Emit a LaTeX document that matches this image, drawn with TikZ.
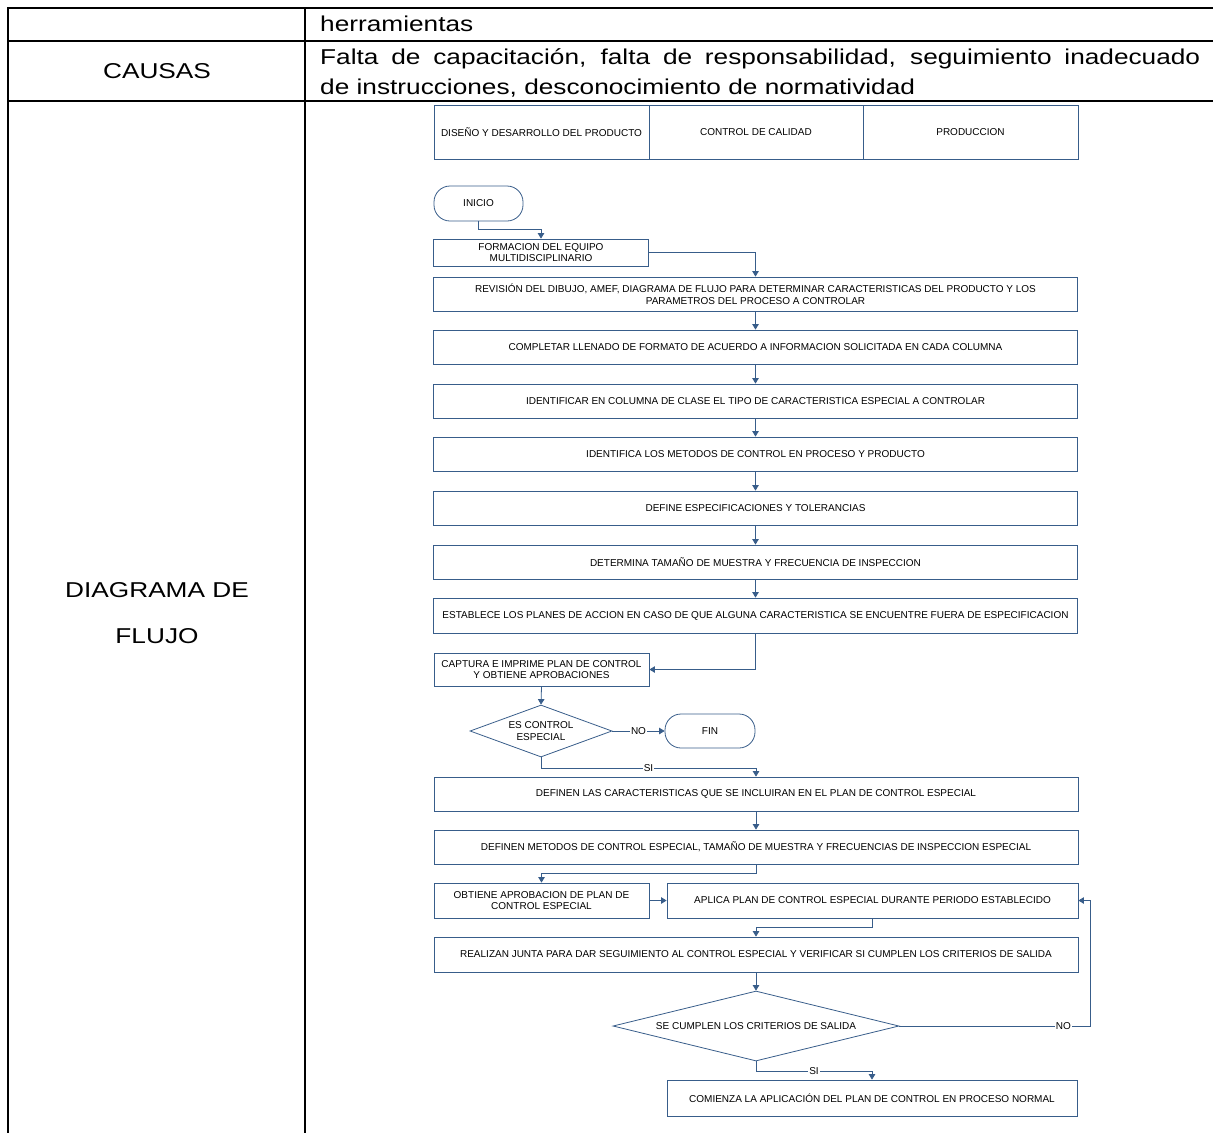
\documentclass[tikz,border=0pt]{standalone}
\usepackage{fontspec}
\setmainfont{Liberation Sans}
\newfontfamily\tablefont[FakeStretch=1.22]{Liberation Sans}
\usetikzlibrary{arrows.meta,shapes.geometric}
\definecolor{flow}{RGB}{56,93,138}
\begin{document}
\begin{tikzpicture}[x=1pt,y=-1pt,
  rule/.style={line width=2.1pt,black},
  celltext/.style={inner sep=0pt,font=\tablefont\fontsize{21.5}{30}\selectfont},
  box/.style={draw=flow,line width=0.8pt,rectangle,inner sep=1pt,align=center,
    font=\fontsize{10}{11.5}\selectfont},
  wide/.style={box,minimum width=644pt,minimum height=34pt},
  half/.style={box,minimum width=215pt,minimum height=34pt},
  term/.style={box,rounded corners=16pt,minimum height=35pt},
  decision/.style={draw=flow,line width=0.8pt,diamond,inner sep=0pt,align=center,
    font=\fontsize{10}{11.5}\selectfont},
  arr/.style={draw=flow,line width=0.8pt,-{Triangle[width=6.5pt,length=5.5pt]}},
  lbl/.style={fill=white,inner sep=1pt,font=\fontsize{10}{11}\selectfont}
]
\useasboundingbox (0,0) rectangle (1213,1133);

% ---- table rules ----
\draw[rule] (8,8) -- (1213,8);
\draw[rule] (8,41) -- (1213,41);
\draw[rule] (8,101) -- (1213,101);
\draw[rule] (8,7) -- (8,1133);
\draw[rule] (305,7) -- (305,1133);

% ---- table text ----
\node[celltext,anchor=west] (tool) at (320,24) {herramientas};
\node[celltext] (causas) at (157,71) {CAUSAS};
\node[celltext,anchor=north west,text width=880pt,align=justify] (falta) at (320,48)
  {Falta de capacitación, falta de responsabilidad, seguimiento inadecuado\linebreak
   de instrucciones, desconocimiento de normatividad};
\node[celltext,align=center,font=\tablefont\fontsize{21.5}{46}\selectfont] (diag) at (157,613)
  {DIAGRAMA DE\\FLUJO};

% ---- swimlane headers ----
\node[box,minimum width=215pt,minimum height=54pt] (lane1) at (541.5,132) {DISEÑO Y DESARROLLO DEL PRODUCTO};
\node[box,minimum width=214pt,minimum height=54pt] (lane2) at (756,132) {CONTROL DE CALIDAD};
\node[box,minimum width=215pt,minimum height=54pt] (lane3) at (970.5,132) {PRODUCCION};

% ---- flow nodes ----
\node[term,minimum width=89pt] (inicio) at (478.5,203.5) {INICIO};
\node[half,minimum height=27pt] (formacion) at (541,252.5) {FORMACION DEL EQUIPO\\MULTIDISCIPLINARIO};
\node[wide] (revision) at (755.5,294) {REVISIÓN DEL DIBUJO, AMEF, DIAGRAMA DE FLUJO PARA DETERMINAR CARACTERISTICAS DEL PRODUCTO Y LOS\\PARAMETROS DEL PROCESO A CONTROLAR};
\node[wide] (completar) at (755.5,347) {COMPLETAR LLENADO DE FORMATO DE ACUERDO A INFORMACION SOLICITADA EN CADA COLUMNA};
\node[wide] (identificar) at (755.5,401) {IDENTIFICAR EN COLUMNA DE CLASE EL TIPO DE CARACTERISTICA ESPECIAL A CONTROLAR};
\node[wide] (identifica) at (755.5,454) {IDENTIFICA LOS METODOS DE CONTROL EN PROCESO Y PRODUCTO};
\node[wide] (define) at (755.5,508) {DEFINE ESPECIFICACIONES Y TOLERANCIAS};
\node[wide] (determina) at (755.5,562) {DETERMINA TAMAÑO DE MUESTRA Y FRECUENCIA DE INSPECCION};
\node[wide,minimum height=35pt] (establece) at (755.5,615.5) {ESTABLECE LOS PLANES DE ACCION EN CASO DE QUE ALGUNA CARACTERISTICA SE ENCUENTRE FUERA DE ESPECIFICACION};
\node[half,minimum height=33pt] (captura) at (541.5,669.5) {CAPTURA E IMPRIME PLAN DE CONTROL\\Y OBTIENE APROBACIONES};
\node[decision,aspect=2.73,minimum width=142pt,minimum height=52pt] (esctrl) at (541,731) {ES CONTROL\\ESPECIAL};
\node[term,minimum width=90pt,minimum height=34pt] (fin) at (710,731) {FIN};
\node[wide] (caract) at (756,794) {DEFINEN LAS CARACTERISTICAS QUE SE INCLUIRAN EN EL PLAN DE CONTROL ESPECIAL};
\node[wide] (metodos) at (756,847) {DEFINEN METODOS DE CONTROL ESPECIAL, TAMAÑO DE MUESTRA Y FRECUENCIAS DE INSPECCION ESPECIAL};
\node[half,minimum height=35pt] (obtiene) at (541.5,900.5) {OBTIENE APROBACION DE PLAN DE\\CONTROL ESPECIAL};
\node[box,minimum width=411pt,minimum height=35pt] (aplica) at (872.5,900.5) {APLICA PLAN DE CONTROL ESPECIAL DURANTE PERIODO ESTABLECIDO};
\node[wide,minimum height=35pt] (junta) at (756,954.5) {REALIZAN JUNTA PARA DAR SEGUIMIENTO AL CONTROL ESPECIAL Y VERIFICAR SI CUMPLEN LOS CRITERIOS DE SALIDA};
\node[decision,aspect=4.09,minimum width=286pt,minimum height=70pt] (salida) at (756,1026) {SE CUMPLEN LOS CRITERIOS DE SALIDA};
\node[box,minimum width=410pt,minimum height=36pt] (comienza) at (872,1098) {COMIENZA LA APLICACIÓN DEL PLAN DE CONTROL EN PROCESO NORMAL};

\coordinate (noturn) at (1090,1026);

% ---- connectors ----
\draw[arr] (inicio.south) -- ++(0,8) -| (formacion.north);
\draw[arr] (formacion.east) -| (revision.north);
\draw[arr] (revision.south) -- (completar.north);
\draw[arr] (completar.south) -- (identificar.north);
\draw[arr] (identificar.south) -- (identifica.north);
\draw[arr] (identifica.south) -- (define.north);
\draw[arr] (define.south) -- (determina.north);
\draw[arr] (determina.south) -- (establece.north);
\draw[arr] (establece.south) |- (captura.east);
\draw[arr] (captura.south) -- (esctrl.north);
\draw[arr] (esctrl.east) -- node[lbl]{NO} (fin.west);
\draw[arr] (esctrl.south) -- ++(0,11) -| node[lbl,pos=0.25]{SI} (caract.north);
\draw[arr] (caract.south) -- (metodos.north);
\draw[arr] (metodos.south) -- ++(0,9) -| (obtiene.north);
\draw[arr] (obtiene.east) -- (aplica.west);
\draw[arr] (aplica.south) -- ++(0,9) -| (junta.north);
\draw[arr] (junta.south) -- (salida.north);
\draw[arr] (salida.east) -- (noturn) node[lbl,pos=0.86]{NO} |- (aplica.east);
\draw[arr] (salida.south) -- ++(0,10) -| node[lbl,pos=0.25]{SI} (comienza.north);
\end{tikzpicture}
\end{document}
